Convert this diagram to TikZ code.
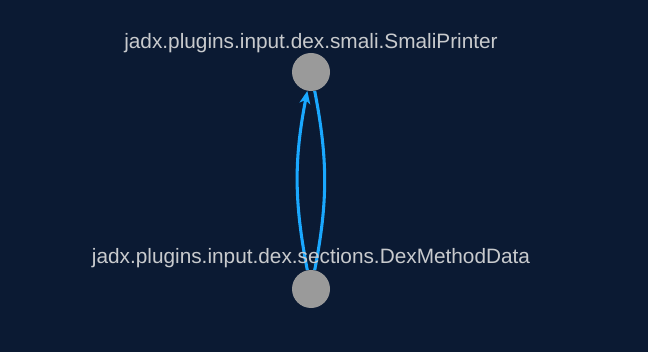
\documentclass[tikz,border=0pt]{standalone}
\usepackage{fontspec}
\setmainfont{Liberation Sans}
\usetikzlibrary{arrows.meta}

\definecolor{bgnavy}{HTML}{0B1A33}
\definecolor{edgeblue}{HTML}{1AA8FF}
\definecolor{nodegray}{HTML}{9A9A9A}
\definecolor{labelgray}{HTML}{C8CACD}

\pgfdeclarelayer{canvas}
\pgfdeclarelayer{edges}
\pgfsetlayers{canvas,edges,main}

\tikzset{
    classnode/.style={circle, fill=nodegray, minimum size=28.5pt, inner sep=0pt},
    classlabel/.style={text=labelgray, font=\fontsize{15.6pt}{18pt}\selectfont, inner sep=0pt},
    dep/.style={edgeblue, line width=2.3pt, bend left=11},
    deparrow/.style={dep, -{Stealth[length=9.5pt, width=8pt, inset=2.5pt]}}
}

\begin{document}
\begin{tikzpicture}[x=0.75pt, y=-0.75pt]

    % Canvas
    \begin{pgfonlayer}{canvas}
        \fill[bgnavy] (0,0) rectangle (648,352);
    \end{pgfonlayer}
    \useasboundingbox (0,0) rectangle (648,352);

    % Classes
    \node[classnode] (printer) at (311,72) {};
    \node[classnode] (method)  at (311,289) {};

    % Dependencies
    \begin{pgfonlayer}{edges}
        \draw[deparrow] (method) to (printer);
        \draw[dep] (printer) to (method);
    \end{pgfonlayer}

    % Labels
    \node[classlabel] (printerlabel) at (311,43)  {jadx.plugins.input.dex.smali.SmaliPrinter};
    \node[classlabel] (methodlabel)  at (311,258) {jadx.plugins.input.dex.sections.DexMethodData};

\end{tikzpicture}
\end{document}
